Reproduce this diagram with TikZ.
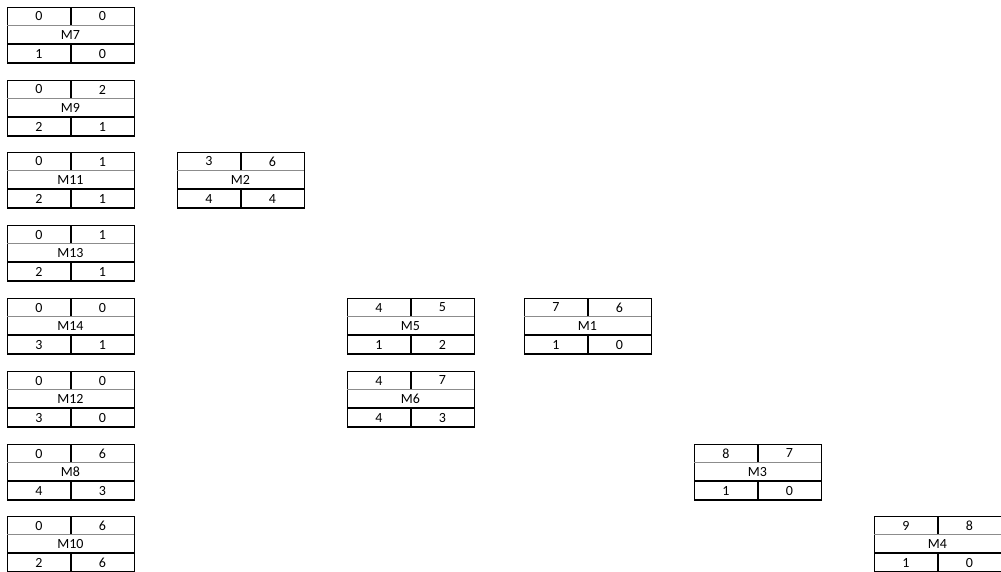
\documentclass[tikz,border=0pt]{standalone}
\usepackage{fontspec}
\setmainfont{Carlito}
\begin{document}
\begin{tikzpicture}[x=0.75pt,y=-0.75pt,
  thinl/.style={line width=0.75pt,draw=black},
  midl/.style={line width=0.75pt,draw=black!45},
  thickl/.style={line width=1.3pt,draw=black},
  txt/.style={inner sep=0pt,font=\fontsize{10.5}{12}\selectfont,text=black}]
\useasboundingbox (0,0) rectangle (1001,572);
\clip (0,0) rectangle (1001,572);
\newcommand\gbox[8]{%
  \begin{scope}[shift={(#2,#3)}]
    \draw[thinl] (0,0) rectangle (127,56);
    \draw[midl] (0,18) -- (127,18);
    \draw[thickl] (0,37) -- (127,37);
    \draw[thickl] (0,56) -- (127,56);
    \draw[thinl] (0,0) -- (127,0);
    \draw[thickl] (64,0) -- (64,18);
    \draw[thickl] (64,37) -- (64,56);
    \node[txt] (#1a) at (32,9.5) {#4};
    \node[txt] (#1b) at (95.5,9.5) {#5};
    \node[txt] (#1m) at (63.5,28) {#6};
    \node[txt] (#1c) at (32,47) {#7};
    \node[txt] (#1d) at (95.5,47) {#8};
  \end{scope}}
\gbox{m7}{7}{7}{0}{0}{M7}{1}{0}
\gbox{m9}{7}{80}{0}{2}{M9}{2}{1}
\gbox{m11}{7}{152}{0}{1}{M11}{2}{1}
\gbox{m13}{7}{225}{0}{1}{M13}{2}{1}
\gbox{m14}{7}{298}{0}{0}{M14}{3}{1}
\gbox{m12}{7}{371}{0}{0}{M12}{3}{0}
\gbox{m8}{7}{444}{0}{6}{M8}{4}{3}
\gbox{m10}{7}{516}{0}{6}{M10}{2}{6}
\gbox{m2}{177}{152}{3}{6}{M2}{4}{4}
\gbox{m5}{347}{298}{4}{5}{M5}{1}{2}
\gbox{m6}{347}{371}{4}{7}{M6}{4}{3}
\gbox{m1}{524}{298}{7}{6}{M1}{1}{0}
\gbox{m3}{694}{444}{8}{7}{M3}{1}{0}
\gbox{m4}{874}{516}{9}{8}{M4}{1}{0}
\end{tikzpicture}
\end{document}
